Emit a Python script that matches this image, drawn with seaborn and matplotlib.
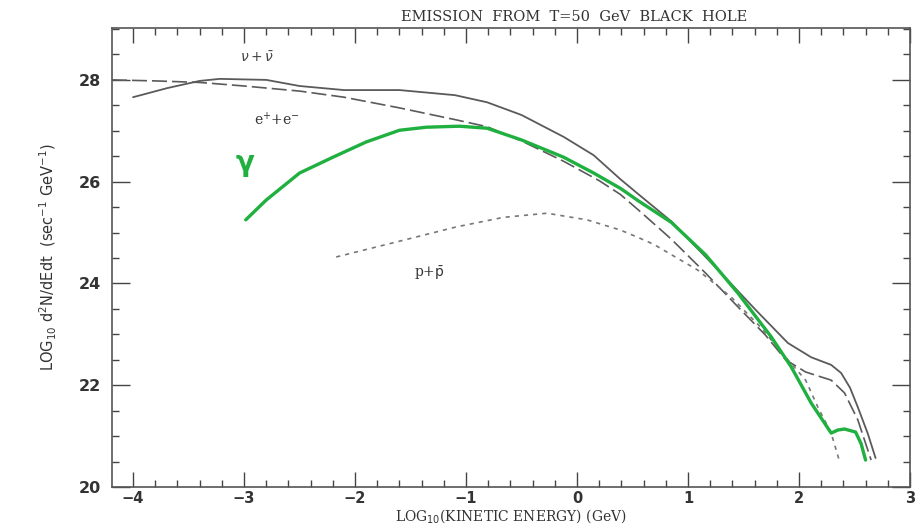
import numpy as np
import pandas as pd
import seaborn as sns
import matplotlib.pyplot as plt
from matplotlib.ticker import MultipleLocator

# Curve data: log10(E/GeV) vs log10 d2N/dEdt
nu_x = [-4.0, -3.69, -3.4, -3.22, -2.8, -2.5, -2.1, -1.6, -1.1, -0.81, -0.5, -0.12,
        0.15, 0.39, 0.555, 0.85, 1.3, 1.61, 1.9, 2.11, 2.29, 2.38, 2.46, 2.53, 2.62, 2.69]
nu_y = [27.66, 27.84, 27.98, 28.02, 28.0, 27.88, 27.8, 27.8, 27.7, 27.56, 27.31, 26.88,
        26.52, 26.05, 25.75, 25.22, 24.2, 23.48, 22.83, 22.55, 22.4, 22.24, 21.95, 21.57, 21.05, 20.57]

ee_x = [-4.19, -3.8, -3.4, -3.0, -2.5, -2.1, -1.6, -1.1, -0.81, -0.5, -0.12, 0.2,
        0.39, 0.555, 0.85, 1.16, 1.45, 1.7, 1.88, 2.06, 2.29, 2.41, 2.53, 2.65]
ee_y = [28.0, 27.98, 27.95, 27.88, 27.78, 27.66, 27.45, 27.22, 27.08, 26.8, 26.4, 26.02,
        25.75, 25.44, 24.87, 24.2, 23.54, 22.98, 22.5, 22.26, 22.1, 21.85, 21.32, 20.53]

gam_x = [-2.985, -2.8, -2.5, -2.2, -1.9, -1.6, -1.36, -1.06, -0.81, -0.5, -0.12, 0.15,
         0.39, 0.555, 0.85, 1.16, 1.45, 1.75, 1.93, 2.11, 2.29, 2.35, 2.41, 2.51, 2.56, 2.60]
gam_y = [25.25, 25.64, 26.17, 26.48, 26.78, 27.01, 27.07, 27.09, 27.05, 26.82, 26.48, 26.17,
         25.87, 25.62, 25.2, 24.56, 23.81, 22.95, 22.36, 21.65, 21.06, 21.12, 21.14, 21.08, 20.85, 20.53]

pp_x = [-2.17, -1.6, -1.09, -0.66, -0.27, 0.09, 0.39, 0.555, 0.69, 1.09, 1.39, 1.65,
        1.88, 2.06, 2.17, 2.29, 2.37]
pp_y = [24.52, 24.83, 25.11, 25.3, 25.38, 25.25, 25.05, 24.9, 24.77, 24.26, 23.73, 23.15,
        22.55, 22.1, 21.57, 21.06, 20.47]

x_ticks = [-4, -3, -2, -1, 0, 1, 2, 3]
y_ticks = [20, 22, 24, 26, 28]

sns.set_style("ticks")
plt.rcParams['font.family'] = ['DejaVu Sans']

fig, ax = plt.subplots(figsize=(9.15, 5.26), dpi=100)
fig.subplots_adjust(left=0.1224, right=0.9945, bottom=0.0741, top=0.9468)

gray = '#5a5a5a'
green = '#1fb040'

sns.lineplot(x=nu_x, y=nu_y, ax=ax, color=gray, linewidth=1.3, sort=False)
sns.lineplot(x=ee_x, y=ee_y, ax=ax, color=gray, linewidth=1.2, sort=False)
ax.lines[-1].set_dashes((9, 3))
sns.lineplot(x=pp_x, y=pp_y, ax=ax, color='#777777', linewidth=1.2, sort=False)
ax.lines[-1].set_dashes((2.5, 3))
sns.lineplot(x=gam_x, y=gam_y, ax=ax, color=green, linewidth=2.4, sort=False)

ax.set_xlim(-4.19, 3.0)
ax.set_ylim(20, 29.02)
ax.set_xticks(x_ticks)
ax.set_yticks(y_ticks)
ax.xaxis.set_minor_locator(MultipleLocator(0.2))
ax.yaxis.set_minor_locator(MultipleLocator(0.5))
ax.tick_params(which='both', direction='in', top=True, right=True, colors='#444444',
               labelsize=11.5, width=1.0)
ax.tick_params(axis='x', which='major', length=11, pad=3, labelsize=10.5)
ax.tick_params(axis='x', which='minor', length=5)
ax.tick_params(axis='y', which='major', length=13, pad=8)
ax.tick_params(axis='y', which='minor', length=5)
for s in ax.spines.values():
    s.set_color('#555555')
    s.set_linewidth(1.2)
    s.set_visible(True)
ax.set_xticklabels([f'\u2212{abs(t)}' if t < 0 else str(t) for t in x_ticks],
                   fontweight='bold', color='#333333')
ax.set_yticklabels([str(t) for t in y_ticks], fontweight='bold', color='#333333')

ax.set_xlabel('LOG$_{10}$(KINETIC ENERGY) (GeV)', family='DejaVu Serif', fontsize=10,
              color='#333333', labelpad=1)
ax.set_ylabel('LOG$_{10}$ d$^2$N/dEdt  (sec$^{-1}$ GeV$^{-1}$)', fontsize=10.5,
              color='#333333', labelpad=14)

fig.text(0.627, 0.967, 'EMISSION  FROM  T=50  GeV  BLACK  HOLE', family='DejaVu Serif',
         fontsize=10.5, color='#333333', ha='center', va='center')

ax.text(-2.88, 28.43, r'$\nu+\bar{\nu}$', fontsize=10, color='#444444', ha='center', va='center')
ax.text(-2.70, 27.21, r'e$^{+}$+e$^{-}$', family='DejaVu Serif', fontsize=10,
        color='#333333', ha='center', va='center')
ax.text(-2.99, 26.33, r'$\mathbf{\gamma}$', fontsize=20, color=green, ha='center', va='center')
ax.text(-1.33, 24.2, r'p+$\bar{\mathrm{p}}$', family='DejaVu Serif', fontsize=10,
        color='#333333', ha='center', va='center')

fig.savefig('out.png', dpi=100)
